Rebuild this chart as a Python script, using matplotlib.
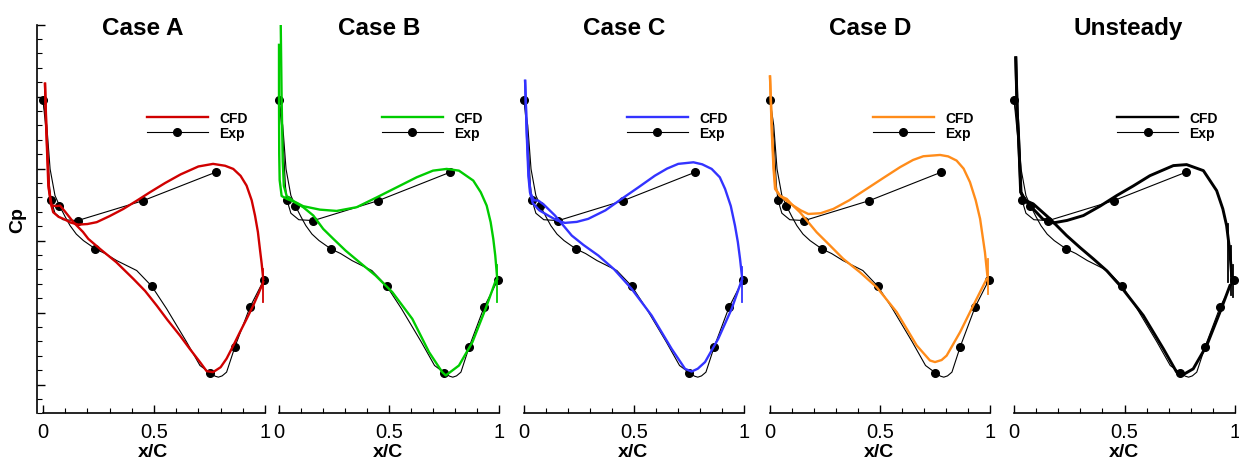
# Distribución de Cp sobre el álabe: CFD (casos A-D y no estacionario) vs. experimento
import matplotlib.pyplot as plt
from matplotlib.lines import Line2D
from matplotlib.ticker import MultipleLocator

plt.rcParams['font.family'] = ['Liberation Sans', 'DejaVu Sans']

# Datos experimentales (los mismos en los 5 paneles)
exp_x = [0.0, 0.036, 0.074, 0.156, 0.236, 0.452, 0.49, 0.752, 0.778, 0.865, 0.932, 0.995]
exp_cp = [0.98, 0.283, 0.243, 0.139, -0.058, 0.278, -0.317, -0.919, 0.475, -0.736, -0.463, -0.273]

exp_up_x = [0.0, 0.019, 0.029, 0.036, 0.054, 0.09, 0.156, 0.452, 0.778]
exp_up_cp = [0.98, 0.683, 0.382, 0.283, 0.19, 0.145, 0.139, 0.278, 0.475]
exp_lo_x = [0.0, 0.017, 0.032, 0.054, 0.074, 0.1, 0.122, 0.15, 0.182, 0.236, 0.28, 0.332, 0.422,
            0.49, 0.557, 0.647, 0.707, 0.752, 0.775, 0.79, 0.807, 0.827, 0.865, 0.932, 0.995]
exp_lo_cp = [0.98, 0.8, 0.497, 0.313, 0.243, 0.165, 0.104, 0.045, 0.0, -0.058, -0.09, -0.139,
             -0.208, -0.317, -0.474, -0.705, -0.868, -0.919, -0.942, -0.949, -0.94, -0.914,
             -0.736, -0.463, -0.273]

# Caso A
a_up_x = [0.009, 0.014, 0.024, 0.035, 0.046, 0.07, 0.092, 0.125, 0.159, 0.2, 0.242, 0.3, 0.362,
          0.42, 0.482, 0.55, 0.62, 0.7, 0.766, 0.82, 0.857, 0.89, 0.917, 0.94, 0.955, 0.968,
          0.977, 0.985, 0.992]
a_up_cp = [1.09, 0.8, 0.38, 0.26, 0.197, 0.165, 0.151, 0.125, 0.111, 0.115, 0.128, 0.17, 0.22,
           0.275, 0.336, 0.4, 0.46, 0.515, 0.533, 0.52, 0.498, 0.45, 0.382, 0.28, 0.174, 0.06,
           -0.058, -0.16, -0.266]
a_lo_x = [0.009, 0.016, 0.027, 0.039, 0.06, 0.077, 0.1, 0.137, 0.18, 0.204, 0.257, 0.33, 0.407,
          0.46, 0.512, 0.56, 0.617, 0.66, 0.707, 0.737, 0.766, 0.8, 0.827, 0.857, 0.887, 0.917,
          0.947, 0.97, 0.992]
a_lo_cp = [1.09, 0.75, 0.36, 0.243, 0.24, 0.243, 0.2, 0.128, 0.06, 0.012, -0.058, -0.15, -0.266,
           -0.35, -0.451, -0.55, -0.66, -0.75, -0.844, -0.907, -0.914, -0.88, -0.82, -0.73,
           -0.636, -0.545, -0.451, -0.37, -0.289]
a_spikes = [(0.992, -0.2, -0.43)]

# Caso B
b_up_x = [0.008, 0.012, 0.017, 0.022, 0.035, 0.065, 0.11, 0.186, 0.262, 0.353, 0.444, 0.535,
          0.626, 0.7, 0.762, 0.818, 0.883, 0.917, 0.944, 0.962, 0.974, 0.983, 0.992]
b_up_cp = [1.49, 0.98, 0.55, 0.38, 0.31, 0.275, 0.239, 0.215, 0.206, 0.232, 0.3, 0.37,
           0.44, 0.486, 0.498, 0.486, 0.417, 0.336, 0.243, 0.128, 0.012, -0.104, -0.266]
b_lo_x = [0.0, 0.0, 0.001, 0.003, 0.012, 0.035, 0.065, 0.11, 0.156, 0.201, 0.247, 0.303, 0.364,
          0.439, 0.515, 0.606, 0.682, 0.742, 0.758, 0.818, 0.879, 0.939, 0.985]
b_lo_cp = [1.36, 1.0, 0.6, 0.42, 0.31, 0.29, 0.272, 0.232, 0.174, 0.081, 0.012, -0.07, -0.148,
           -0.243, -0.358, -0.544, -0.775, -0.914, -0.937, -0.868, -0.706, -0.474, -0.278]
b_spikes = [(0.992, -0.17, -0.43)]

# Caso C
c_up_x = [0.005, 0.012, 0.02, 0.027, 0.04, 0.07, 0.11, 0.15, 0.186, 0.24, 0.292, 0.37, 0.444,
          0.52, 0.595, 0.65, 0.701, 0.77, 0.81, 0.853, 0.89, 0.914, 0.94, 0.959, 0.972, 0.982,
          0.992]
c_up_cp = [1.11, 0.753, 0.45, 0.336, 0.26, 0.21, 0.174, 0.14, 0.123, 0.13, 0.151, 0.21, 0.29,
           0.37, 0.451, 0.5, 0.533, 0.544, 0.53, 0.498, 0.44, 0.359, 0.24, 0.104, -0.01, -0.127,
           -0.266]
c_lo_x = [0.005, 0.013, 0.022, 0.03, 0.045, 0.065, 0.09, 0.141, 0.217, 0.27, 0.338, 0.41, 0.489,
          0.58, 0.671, 0.732, 0.762, 0.79, 0.823, 0.883, 0.944, 0.989]
c_lo_cp = [1.11, 0.75, 0.45, 0.33, 0.28, 0.278, 0.25, 0.174, 0.035, -0.03, -0.104, -0.2, -0.335,
           -0.52, -0.752, -0.891, -0.91, -0.89, -0.844, -0.682, -0.474, -0.278]
c_spikes = [(0.992, -0.185, -0.428)]

# Caso D
d_up_x = [0.0, 0.008, 0.016, 0.023, 0.045, 0.08, 0.106, 0.14, 0.174, 0.23, 0.288, 0.36, 0.439,
          0.515, 0.591, 0.65, 0.697, 0.773, 0.81, 0.848, 0.88, 0.909, 0.935, 0.955, 0.977, 0.988]
d_up_cp = [1.14, 0.753, 0.5, 0.359, 0.313, 0.27, 0.243, 0.21, 0.185, 0.19, 0.22, 0.28, 0.359,
           0.435, 0.51, 0.56, 0.586, 0.595, 0.585, 0.556, 0.5, 0.406, 0.28, 0.151, -0.081, -0.243]
d_lo_x = [0.0, 0.01, 0.018, 0.026, 0.045, 0.076, 0.1, 0.136, 0.212, 0.27, 0.333, 0.409, 0.485,
          0.576, 0.667, 0.727, 0.75, 0.78, 0.803, 0.864, 0.924, 0.985]
d_lo_cp = [1.14, 0.75, 0.5, 0.36, 0.31, 0.29, 0.25, 0.197, 0.058, -0.03, -0.127, -0.22, -0.324,
           -0.497, -0.729, -0.833, -0.844, -0.83, -0.799, -0.636, -0.451, -0.266]
d_spikes = [(0.993, -0.127, -0.37)]

# No estacionario
u_up_x = [0.008, 0.014, 0.02, 0.03, 0.05, 0.087, 0.13, 0.178, 0.24, 0.314, 0.39, 0.465, 0.54,
          0.615, 0.721, 0.781, 0.857, 0.917, 0.945, 0.962, 0.977, 0.985]
u_up_cp = [1.27, 0.9, 0.753, 0.336, 0.28, 0.22, 0.15, 0.123, 0.14, 0.174, 0.24, 0.313, 0.38,
           0.451, 0.521, 0.528, 0.486, 0.347, 0.22, 0.104, -0.081, -0.243]
u_lo_x = [0.008, 0.016, 0.024, 0.032, 0.05, 0.087, 0.163, 0.238, 0.3, 0.359, 0.42, 0.48, 0.585,
          0.676, 0.736, 0.759, 0.811, 0.872, 0.932, 0.977]
u_lo_cp = [1.27, 0.85, 0.6, 0.336, 0.28, 0.255, 0.151, 0.035, -0.05, -0.127, -0.21, -0.313,
           -0.52, -0.752, -0.914, -0.937, -0.891, -0.729, -0.497, -0.313]
u_spikes = [(0.97, 0.115, -0.29), (0.982, -0.035, -0.38), (0.993, -0.17, -0.39)]

titles = ['Case A', 'Case B', 'Case C', 'Case D', 'Unsteady']
colors = ['#d00000', '#00cc00', '#3333ff', '#ff8c1a', 'black']
cfd = [(a_up_x, a_up_cp, a_lo_x, a_lo_cp, a_spikes),
       (b_up_x, b_up_cp, b_lo_x, b_lo_cp, b_spikes),
       (c_up_x, c_up_cp, c_lo_x, c_lo_cp, c_spikes),
       (d_up_x, d_up_cp, d_lo_x, d_lo_cp, d_spikes),
       (u_up_x, u_up_cp, u_lo_x, u_lo_cp, u_spikes)]

# Posición de cada panel en píxeles (x=0 y ancho de 0 a 1)
W, H = 1239, 460
x0_px = [43, 279, 524, 770, 1014]
w_px = [222, 220, 220, 220, 221]
xl, xr = -0.025, 1.02
ymin, ymax = -1.2, 1.5
bot = (H - 414.3) / H
hgt = (414.3 - 25.7) / H

fig = plt.figure(figsize=(W / 100, H / 100), dpi=100)

for i in range(5):
    x0, w = x0_px[i], w_px[i]
    ax = fig.add_axes([(x0 + xl * w) / W, bot, (xr - xl) * w / W, hgt])
    ux, ucp, lx, lcp, spikes = cfd[i]
    lw = 2.1 if i == 4 else 1.7

    # Experimento
    ax.plot(exp_up_x, exp_up_cp, color='black', lw=0.8)
    ax.plot(exp_lo_x, exp_lo_cp, color='black', lw=0.8)
    ax.plot(exp_x, exp_cp, 'o', color='black', ms=5.5)

    # CFD
    ax.plot(ux, ucp, color=colors[i], lw=lw)
    ax.plot(lx, lcp, color=colors[i], lw=lw)
    for sx, top, bottom in spikes:
        ax.plot([sx, sx], [top, bottom], color=colors[i], lw=1.3)

    ax.set_xlim(xl, xr)
    ax.set_ylim(ymin, ymax)

    ax.spines['top'].set_visible(False)
    ax.spines['right'].set_visible(False)
    ax.spines['bottom'].set_bounds(0, 1)
    ax.spines['bottom'].set_linewidth(1.2)
    ax.spines['left'].set_linewidth(1.2)

    ax.set_xticks([0, 0.5, 1])
    ax.set_xticklabels(['0', '0.5', '1'])
    ax.xaxis.set_minor_locator(MultipleLocator(0.1))
    ax.set_yticks([-1, -0.5, 0, 0.5, 1, 1.5])
    ax.set_yticklabels([])
    ax.yaxis.set_minor_locator(MultipleLocator(0.1))
    ax.tick_params(which='major', direction='in', length=6, width=1, labelsize=14.5, pad=6)
    ax.tick_params(which='minor', direction='in', length=3.5, width=0.8)
    if i > 0:
        ax.spines['left'].set_visible(False)
        ax.tick_params(which='both', left=False)

    ax.set_xlabel('x/C', fontsize=14, fontweight='bold', labelpad=2)
    ax.text(0.267, 1.435, titles[i], transform=ax.transData, ha='left', va='baseline',
            fontsize=17.5, fontweight='bold', clip_on=False)

    handles = [Line2D([], [], color=colors[i], lw=1.7),
               Line2D([], [], color='black', lw=0.8, marker='o', ms=5.5)]
    ax.legend(handles, ['CFD', 'Exp'], loc='center left', bbox_to_anchor=(0.467, 0.80),
              bbox_transform=ax.transData, frameon=False, borderpad=0, borderaxespad=0,
              handlelength=4.4, handletextpad=0.8, labelspacing=0.1,
              prop={'weight': 'bold', 'size': 10})

fig.text(18 / W, 1 - 220 / H, 'Cp', rotation=90, fontsize=14, fontweight='bold',
         ha='center', va='center')

fig.savefig('out.png', dpi=100)
